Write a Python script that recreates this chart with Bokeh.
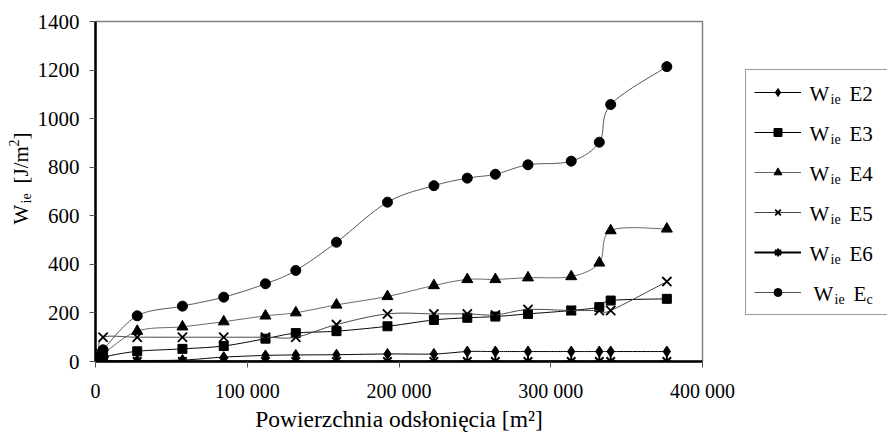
import numpy as np
from bokeh.plotting import figure
from bokeh.layouts import row
from bokeh.models import Range1d, FixedTicker, Legend, LegendItem, Label
from bokeh.embed import file_html
from bokeh.resources import INLINE

# ---- data ----
area = [0, 2000, 5000, 27500, 57300, 84500, 112000, 132000, 158800, 192400,
        223000, 245000, 263500, 285000, 313500, 332000, 339500, 376500]
w_e2 = [0, 0, 2, 4, 6, 18, 25, 27, 28, 31, 31, 41, 41, 41, 41, 41, 41, 41]
w_e3 = [0, 5, 18, 42, 52, 64, 94, 117, 125, 145, 171, 180, 185, 196, 210, 224, 251, 258]
w_e4 = [0, 8, 30, 125, 143, 164, 188, 201, 233, 268, 313, 338, 338, 345, 350, 406, 539, 546]
w_e5 = [0, 40, 100, 100, 100, 100, 100, 100, 152, 196, 196, 196, 192, 214, 210, 210, 210, 329]
w_e6 = [0, 0, 0, 0, 0, 0, 0, 0, 0, 0, 0, 0, 0, 0, 0, 0, 0, 0]
w_ec = [0, 15, 48, 188, 228, 265, 320, 375, 491, 656, 724, 755, 771, 810, 825, 903, 1058, 1214]

x_ticks = [0, 100000, 200000, 300000, 400000]
x_tick_labels = ["0", "100 000", "200 000", "300 000", "400 000"]
y_ticks = [0, 200, 400, 600, 800, 1000, 1200, 1400]

series_names = ["E2", "E3", "E4", "E5", "E6", "Ec"]

FONT = "Liberation Serif"
H = 433
TOP, BOTTOM = 21, 72            # borders above / below the plot frame
FRAME_H = H - TOP - BOTTOM      # 340
FY = H - BOTTOM                 # canvas y of frame bottom (361)


def smooth(xs, ys, n=16):
    """Excel-like smoothed line: Catmull-Rom converted to cubic Bezier."""
    pts = np.column_stack([np.asarray(xs, float), np.asarray(ys, float)])
    P = np.vstack([pts[0], pts, pts[-1]])
    t = np.linspace(0, 1, n)[:, None]
    out = [pts[:1]]
    for i in range(len(pts) - 1):
        p0, p1, p2, p3 = P[i], P[i + 1], P[i + 2], P[i + 3]
        c1 = p1 + (p2 - p0) / 6.0
        c2 = p2 - (p3 - p1) / 6.0
        seg = ((1 - t) ** 3) * p1 + 3 * ((1 - t) ** 2) * t * c1 + 3 * (1 - t) * t ** 2 * c2 + t ** 3 * p2
        out.append(seg[1:])
    r = np.vstack(out)
    return r[:, 0], r[:, 1]


def blank_fig(w):
    f = figure(frame_width=w, frame_height=FRAME_H,
               x_range=Range1d(0, w), y_range=Range1d(0, FRAME_H),
               min_border=0, min_border_left=0, min_border_right=0,
               min_border_top=TOP, min_border_bottom=BOTTOM,
               x_axis_location=None, y_axis_location=None,
               output_backend="svg", toolbar_location=None)
    f.xgrid.visible = False
    f.ygrid.visible = False
    f.outline_line_color = None
    f.background_fill_color = "white"
    f.border_fill_color = "white"
    return f


LEFT_W = 34          # width of the strip holding the y-axis title
LEG_X0 = 741         # canvas x where the legend strip starts

# ---------------- main chart ----------------
p = figure(frame_width=607, frame_height=FRAME_H,
           min_border_left=94 - LEFT_W, min_border_right=LEG_X0 - 701,
           min_border_top=TOP, min_border_bottom=BOTTOM,
           x_range=Range1d(0, 400000), y_range=Range1d(0, 1400),
           output_backend="svg", toolbar_location=None)
p.background_fill_color = "white"
p.border_fill_color = "white"
p.xgrid.visible = False
p.ygrid.visible = False
p.outline_line_color = "#808080"
p.outline_line_width = 1.5

p.xaxis.ticker = FixedTicker(ticks=x_ticks)
p.xaxis.major_label_overrides = {t: l for t, l in zip(x_ticks, x_tick_labels)}
p.yaxis.ticker = FixedTicker(ticks=y_ticks)
for ax in (p.xaxis[0], p.yaxis[0]):
    ax.axis_line_color = "black"
    ax.axis_line_width = 2.5
    ax.major_tick_line_color = "#555555"
    ax.major_tick_line_width = 1
    ax.major_tick_out = 6
    ax.major_tick_in = 0
    ax.minor_tick_line_color = None
    ax.major_label_text_font = FONT
    ax.major_label_text_color = "black"
p.xaxis.major_label_text_font_size = "20px"
p.yaxis.major_label_text_font_size = "21px"
p.xaxis.major_label_standoff = 12
p.yaxis.major_label_standoff = 10
p.xaxis.axis_label = "Powierzchnia odsłonięcia [m²]"
p.xaxis.axis_label_text_font = FONT
p.xaxis.axis_label_text_font_size = "23.5px"
p.xaxis.axis_label_text_font_style = "normal"
p.xaxis.axis_label_text_color = "black"
p.xaxis.axis_label_standoff = 1

styles = {
    "E2": dict(marker="diamond", size=11, color="black", lw=1.0, mlw=1),
    "E3": dict(marker="square", size=9, color="black", lw=1.0, mlw=1),
    "E4": dict(marker="triangle", size=11, color="#666666", lw=1.0, mlw=1),
    "E5": dict(marker="x", size=13, color="#444444", lw=1.0, mlw=1.8),
    "E6": dict(marker="asterisk", size=12, color="black", lw=2.0, mlw=2),
    "Ec": dict(marker="circle", size=10, color="#555555", lw=1.0, mlw=1),
}
data = {"E2": w_e2, "E3": w_e3, "E4": w_e4, "E5": w_e5, "E6": w_e6, "Ec": w_ec}

for name in series_names:
    st = styles[name]
    sx, sy = smooth(area, data[name])
    p.line(sx, sy, line_color=st["color"], line_width=st["lw"])
    p.scatter(area, data[name], marker=st["marker"], size=st["size"],
              fill_color="black", line_color="black", line_width=st["mlw"])


def lab(f, x0, cx, cy, text, size, angle=0.0):
    """Label centred (vertically, in text direction terms) at canvas pixel (cx, cy)."""
    f.add_layout(Label(x=cx - x0, y=FY - cy, text=text, text_font=FONT,
                       text_font_size=f"{size}px", text_color="black",
                       text_align="left", text_baseline="middle", angle=angle))


# ---------------- y-axis title strip ----------------
yf = blank_fig(LEFT_W)
ang = np.pi / 2
lab(yf, 0, 20, 224, "W", 21, ang)
lab(yf, 0, 26, 203, "ie", 14, ang)
lab(yf, 0, 20, 183, "[J/m", 21, ang)
lab(yf, 0, 13, 146, "2", 14, ang)
lab(yf, 0, 20, 139, "]", 21, ang)

# ---------------- legend strip ----------------
LEG_BOTTOM = 315
lf = blank_fig(887 - LEG_X0)
items = []
for name in series_names:
    st = styles[name]
    # legend-only copies of the series (hidden, used for the legend samples)
    lr = lf.line(area, data[name], line_color=st["color"], line_width=st["lw"], visible=False)
    mr = lf.scatter(area, data[name], marker=st["marker"], size=st["size"],
                    fill_color="black", line_color="black", line_width=st["mlw"],
                    visible=False)
    items.append(LegendItem(label=" ", renderers=[lr, mr]))

legend = Legend(items=items, location=(744 - LEG_X0, FY - LEG_BOTTOM), orientation="vertical",
                padding=8, spacing=12, glyph_width=47, glyph_height=20,
                label_height=28, label_width=130, label_standoff=7,
                border_line_color="#333333", border_line_width=1,
                background_fill_alpha=0.0, click_policy="none",
                margin=0)
lf.add_layout(legend, "center")

for i, name in enumerate(series_names):
    yc = 93 + 40 * i
    dx = 4 if name == "Ec" else 0
    lab(lf, LEG_X0, 808 + dx, yc, "W", 21)
    lab(lf, LEG_X0, 829 + dx, yc + 6, "ie", 14)
    if name == "Ec":
        lab(lf, LEG_X0, 848 + dx, yc, "E", 21)
        lab(lf, LEG_X0, 861 + dx, yc + 6, "c", 14)
    else:
        lab(lf, LEG_X0, 848, yc, name, 21)

layout = row(yf, p, lf, spacing=0)
open("out.html", "w").write(file_html(layout, INLINE))
